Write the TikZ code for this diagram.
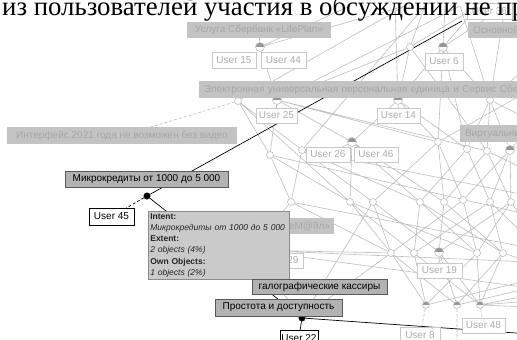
\documentclass[tikz,border=0pt]{standalone}
\usepackage{fontspec}
\setmainfont{Liberation Serif}
\setsansfont{Liberation Sans}
\pgfdeclarelayer{bg}
\pgfsetlayers{bg,main}
\definecolor{latc}{RGB}{190,190,190}
\definecolor{fadefill}{RGB}{195,195,195}
\definecolor{fadetxt}{RGB}{166,166,166}
\definecolor{fuserdraw}{RGB}{200,200,200}
\definecolor{fusertxt}{RGB}{172,172,172}
\definecolor{hlfill}{RGB}{178,178,178}
\definecolor{tipfill}{RGB}{202,202,202}
\definecolor{tipdraw}{RGB}{140,140,140}
\definecolor{halfc}{RGB}{150,150,150}
\tikzset{
  lat/.style={draw=latc, line width=0.6pt},
  latdash/.style={draw=latc, line width=0.6pt, dash pattern=on 3pt off 2pt},
  blk/.style={draw=black, line width=0.7pt},
  blkdash/.style={draw=black, line width=0.7pt, dash pattern=on 3pt off 2pt},
  hn/.style={circle, draw=latc, fill=white, line width=0.6pt, inner sep=0pt, minimum size=7pt},
  gn/.style={circle, draw=latc, fill=white, line width=0.6pt, inner sep=0pt, minimum size=9pt,
    path picture={\fill[halfc] (path picture bounding box.north west) rectangle (path picture bounding box.east);}},
  bn/.style={circle, draw=black, fill=black, inner sep=0pt, minimum size=6.5pt},
  lbl/.style={font=\sffamily\fontsize{10}{12}\selectfont, inner sep=0pt, outer sep=0pt},
  fadebox/.style={lbl, fill=fadefill, text=fadetxt},
  fadeleft/.style={lbl, fill=fadefill, text=fadetxt, anchor=west, align=left, text width=#1, inner xsep=5pt},
  fuser/.style={lbl, draw=fuserdraw, fill=white, text=fusertxt, line width=0.8pt},
  hlbox/.style={lbl, fill=hlfill, draw=black!65, text=black, line width=0.8pt},
  buser/.style={lbl, draw=black, fill=white, text=black, line width=0.8pt},
  tip/.style={fill=tipfill, draw=tipdraw, line width=0.7pt, anchor=north west, align=left,
    text width=137pt, inner xsep=2pt, inner ysep=2pt, minimum height=68pt,
    font=\sffamily\fontsize{8.5}{11.2}\selectfont, text=black!85},
  bigtext/.style={font=\rmfamily\fontsize{26.8}{29}\selectfont, inner sep=0pt, anchor=base west}
}
\begin{document}
\begin{tikzpicture}[x=1pt,y=-1pt]
\useasboundingbox (0,0) rectangle (517,340);
\clip (0,0) rectangle (517,340);
% hidden end points
\coordinate (t1) at (350,6);
\coordinate (t2) at (405,6);
\coordinate (t3) at (425,6);
\coordinate (t4) at (445,6);
\coordinate (t5) at (478,6);
\coordinate (t6) at (505,6);
\coordinate (t7) at (395,6);
\coordinate (t8) at (460,6);
\coordinate (r1) at (530,215);
\coordinate (r2) at (530,230);
\coordinate (r3) at (530,248);
\coordinate (r4) at (530,262);
\coordinate (r5) at (530,280);
\coordinate (r6) at (530,288);
\coordinate (r7) at (530,295);
\coordinate (r8) at (530,301);
\coordinate (r9) at (530,307);
\coordinate (r10) at (530,240);
\coordinate (r11) at (530,196);
\coordinate (r12) at (530,172);
\coordinate (r13) at (530,120);
\coordinate (r14) at (530,64);
\coordinate (r15) at (530,140);
\coordinate (r16) at (530,334);
\coordinate (r17) at (530,90);
\coordinate (bt) at (462,21);
\coordinate (bot1) at (457,345);
% concept nodes
\node[gn] (A) at (260,47) {};
\node[hn] (B) at (410,47) {};
\node[gn] (C) at (443,47) {};
\node[hn] (D) at (238,101) {};
\node[gn] (E) at (277,100) {};
\node[gn] (F) at (398,100) {};
\node[hn] (G) at (490,100) {};
\node[hn] (H) at (270,155) {};
\node[hn] (I) at (302,150) {};
\node[gn] (J) at (352,142) {};
\node[hn] (K) at (438,142) {};
\node[hn] (L) at (467,149) {};
\node[hn] (M) at (487,151) {};
\node[gn] (N) at (510,150) {};
\node[hn] (O) at (291,202) {};
\node[hn] (P) at (350,202) {};
\node[hn] (Q) at (373,202) {};
\node[hn] (R) at (420,202) {};
\node[hn] (S) at (444,202) {};
\node[hn] (T) at (463,200) {};
\node[hn] (U) at (490,202) {};
\node[hn] (V) at (511,202) {};
\node[hn] (W) at (391,253) {};
\node[hn] (X) at (414,253) {};
\node[gn] (Y) at (439,252) {};
\node[hn] (Z) at (477,253) {};
\node[hn] (AA) at (503,253) {};
\node[gn, minimum size=7pt] (BB) at (426,305) {};
\node[gn, minimum size=7pt] (CC) at (457,305) {};
\node[gn, minimum size=7pt] (DD) at (480,305) {};
\node[hn] (GK) at (250,250) {};
\node[bn] (MK) at (147,196) {};
\node[bn] (PR) at (302,318) {};
% labels
\node[fadebox, minimum width=144pt, minimum height=16pt] (usl) at (259,30) {Услуга Сбербанк «LifePlan»};
\node[fadeleft=120pt, minimum height=16pt] (osn) at (468,30) {Основной};
\node[fadeleft=400pt, minimum height=17pt] (eup) at (199,89.5) {Электронная универсальная персональная единица и Сервис Сбербанк};
\node[fadeleft=120pt, minimum height=17pt] (virt) at (460,133.5) {Виртуальный};
\node[fadebox, minimum width=230pt, minimum height=17pt] (intf) at (122,135.5) {Интерфейс 2021 года не возможен без видео};
\node[fadebox, anchor=east, align=right, text width=90pt, inner xsep=4pt, minimum height=16pt] (mail) at (334,226) {еМ@йл»};
\node[fuser, minimum width=44pt, minimum height=16pt] (u15) at (234,60) {User 15};
\node[fuser, minimum width=45pt, minimum height=16pt] (u44) at (283.5,60) {User 44};
\node[fuser, minimum width=38pt, minimum height=17pt] (u6) at (444,61.5) {User 6};
\node[fuser, minimum width=45pt, minimum height=16pt] (u36) at (489.5,11) {User 36};
\node[fuser, minimum width=41pt, minimum height=15pt] (u25) at (276.5,115.5) {User 25};
\node[fuser, minimum width=43pt, minimum height=15pt] (u14) at (398.5,115.5) {User 14};
\node[fuser, minimum width=44pt, minimum height=15pt] (u26) at (328,154.5) {User 26};
\node[fuser, minimum width=44pt, minimum height=15pt] (u46) at (376,154.5) {User 46};
\node[fuser, minimum width=45pt, minimum height=15pt] (u19) at (439.5,270.5) {User 19};
\node[fuser, minimum width=44pt, minimum height=15pt] (u29) at (281,260.5) {User 29};
\node[fuser, minimum width=40pt, minimum height=16pt] (u8) at (420,335) {User 8};
\node[fuser, minimum width=43pt, minimum height=15pt] (u48) at (483.5,325.5) {User 48};
\node[hlbox, minimum width=163pt, minimum height=16pt] (mkl) at (146.5,179) {Микрокредиты от 1000 до 5 000};
\node[buser, minimum width=45pt, minimum height=17pt] (u45) at (111.5,216.5) {User 45};
\node[tip] (tt) at (148,211) {\textbf{Intent:}\\ \textit{Микрокредиты от 1000 до 5 000}\\ \textbf{Extent:}\\ \textit{2 objects (4\%)}\\ \textbf{Own Objects:}\\ \textit{1 objects (2\%)}};
\node[hlbox, minimum width=135pt, minimum height=15pt] (gal) at (319.5,286.5) {галографические кассиры};
\node[hlbox, minimum width=127pt, minimum height=17pt] (pro) at (278.5,307.5) {Простота и доступность};
\node[buser, minimum width=38pt, minimum height=16pt] (u22) at (299,338) {User 22};
% edges
\begin{pgfonlayer}{bg}
\fill[white] (0,0) rectangle (517,340);
\clip (0,0) rectangle (517,340);
\draw[lat] (A) -- (t1) (A) -- (t2) (A) -- (E) (B) -- (t3) (B) -- (t5) (B) -- (E) (B) -- (F) (B) -- (M)
  (C) -- (t4) (C) -- (t6) (C) -- (F) (C) -- (G) (C) -- (L) (D) -- (t2) (F) -- (t7) (G) -- (t6) (G) -- (r14)
  (E) -- (t8) (F) -- (t5) (G) -- (t8) (I) -- (t3) (K) -- (r17)
  (D) -- (H) (D) -- (I) (D) -- (P) (E) -- (H) (E) -- (J) (E) -- (K) (E) -- (M) (F) -- (J) (F) -- (K) (F) -- (L)
  (G) -- (L) (G) -- (M) (G) -- (N) (C) -- (K) (G) -- (r13) (N) -- (r15)
  (H) -- (O) (H) -- (P) (H) -- (r1) (I) -- (O) (I) -- (Q) (I) -- (R) (I) -- (r11) (J) -- (P) (J) -- (R) (J) -- (S)
  (K) -- (Q) (K) -- (S) (K) -- (T) (L) -- (R) (L) -- (U) (M) -- (S) (M) -- (V) (M) -- (r12) (N) -- (T) (N) -- (U) (N) -- (V)
  (O) -- (W) (O) -- (r3) (P) -- (W) (P) -- (X) (P) -- (Z) (Q) -- (W) (Q) -- (Y) (R) -- (X) (R) -- (Z) (R) -- (AA)
  (S) -- (Y) (S) -- (AA) (T) -- (W) (T) -- (Z) (U) -- (X) (U) -- (AA) (V) -- (Y) (V) -- (Z) (V) -- (r2) (U) -- (r10)
  (W) -- (BB) (W) -- (CC) (X) -- (BB) (X) -- (DD) (Y) -- (CC) (Y) -- (DD) (Z) -- (BB) (Z) -- (DD) (AA) -- (CC) (AA) -- (DD)
  (BB) -- (r5) (CC) -- (r6) (DD) -- (r7) (DD) -- (r8) (DD) -- (r9) (AA) -- (r4)
  (W) -- (PR) (Q) -- (PR) (GK) -- (W) (GK) -- (r6) (GK) -- (O) (GK) -- (r4) (GK) -- (PR)
  (A) -- (usl) (E) -- (u25) (F) -- (u14) (J) -- (u26) (C) -- (u6) (N) -- (virt) (Y) -- (u19);
\draw[latdash] (D) -- (intf) (BB) -- (u8) (CC) -- (bot1) (DD) -- (u48);
\draw[blk] (MK) -- (bt) (MK) -- (PR) (PR) -- (r16) (PR) -- (u22);
\draw[blkdash] (MK) -- (u45);
\end{pgfonlayer}
\node[bigtext] (head) at (2,15.5) {из пользователей участия в обсуждении не пр};
\end{tikzpicture}
\end{document}
